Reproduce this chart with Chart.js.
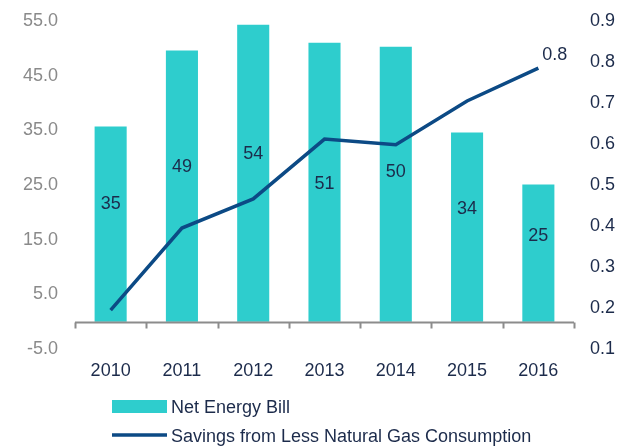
<!DOCTYPE html>
<html>
<head>
<meta charset="utf-8">
<script src="https://cdn.jsdelivr.net/npm/chart.js@4"></script>
<style>
  html, body { margin: 0; padding: 0; background: #ffffff; }
  #wrap { width: 620px; height: 447px; position: relative; }
</style>
</head>
<body>
<div id="wrap"><canvas id="c" width="620" height="447"></canvas></div>
<script>
const categories = ['2010', '2011', '2012', '2013', '2014', '2015', '2016'];
const netEnergyBill = [35.7, 49.6, 54.3, 51.0, 50.3, 34.6, 25.1];
const netEnergyBillLabels = ['35', '49', '54', '51', '50', '34', '25'];
const gasSavings = [0.195, 0.395, 0.466, 0.612, 0.598, 0.705, 0.785];
const gasSavingsLastLabel = '0.8';
const leftTicks = [-5, 5, 15, 25, 35, 45, 55];
const rightTicks = [0.1, 0.2, 0.3, 0.4, 0.5, 0.6, 0.7, 0.8, 0.9];

const TEAL = '#2ECDCD';
const NAVY = '#0C4A85';
const TEXT = '#1C2B4B';
const GRAY = '#8A8A8A';
const FONT = '"Liberation Sans", Arial, sans-serif';

const decorations = {
  id: 'decorations',
  afterDatasetsDraw(chart, args, opts) {
    const ctx = chart.ctx;
    const x = chart.scales.x, y = chart.scales.y, y1 = chart.scales.y1;
    const ca = chart.chartArea;
    // zero axis line with category tick marks
    const y0 = Math.round(y.getPixelForValue(0)) + 0.5;
    ctx.save();
    ctx.strokeStyle = '#8C8C8C';
    ctx.lineWidth = 2;
    ctx.beginPath();
    ctx.moveTo(ca.left, y0);
    ctx.lineTo(ca.right, y0);
    const n = categories.length;
    const cw = (ca.right - ca.left) / n;
    for (let i = 0; i <= n; i++) {
      const tx = Math.round(ca.left + i * cw) + 0.5;
      ctx.moveTo(tx, y0);
      ctx.lineTo(tx, y0 + 6);
    }
    ctx.stroke();

    // bar value labels
    ctx.fillStyle = TEXT;
    ctx.font = '18px ' + FONT;
    ctx.textAlign = 'center';
    ctx.textBaseline = 'middle';
    netEnergyBill.forEach((v, i) => {
      const px = x.getPixelForValue(i);
      const py = y.getPixelForValue(v * opts.labelFrac[i]);
      ctx.fillText(netEnergyBillLabels[i], px, py);
    });

    // last point label of line
    const li = gasSavings.length - 1;
    const lx = x.getPixelForValue(li);
    const ly = y1.getPixelForValue(gasSavings[li]);
    ctx.textAlign = 'left';
    ctx.fillText(gasSavingsLastLabel, lx + 4, ly - 13);

    // legend
    const lg = opts.legend;
    ctx.fillStyle = TEAL;
    ctx.fillRect(lg.x, lg.y1 - 7, 55, 13);
    ctx.strokeStyle = NAVY;
    ctx.lineWidth = 3.5;
    ctx.beginPath();
    ctx.moveTo(lg.x, lg.y2);
    ctx.lineTo(lg.x + 55, lg.y2);
    ctx.stroke();
    ctx.fillStyle = TEXT;
    ctx.textAlign = 'left';
    ctx.textBaseline = 'middle';
    ctx.fillText(chart.data.datasets[1].label, lg.x + 59, lg.y1 + 1);
    ctx.fillText(chart.data.datasets[0].label, lg.x + 59, lg.y2 + 2);
    ctx.restore();
  }
};

function fitVertical(width) {
  return function (s) {
    s.width = width;
    s.paddingTop = 0;
    s.paddingBottom = 0;
  };
}

new Chart(document.getElementById('c'), {
  data: {
    labels: categories,
    datasets: [
      {
        type: 'line',
        label: 'Savings from Less Natural Gas Consumption',
        data: gasSavings,
        yAxisID: 'y1',
        borderColor: NAVY,
        borderWidth: 3.5,
        pointRadius: 0,
        tension: 0,
        fill: false,
        order: 0
      },
      {
        type: 'bar',
        label: 'Net Energy Bill',
        data: netEnergyBill,
        yAxisID: 'y',
        backgroundColor: TEAL,
        borderWidth: 0,
        barPercentage: 0.45,
        categoryPercentage: 1.0,
        order: 1
      }
    ]
  },
  options: {
    responsive: false,
    animation: false,
    devicePixelRatio: 1,
    layout: { padding: { top: 21, bottom: 58, left: 0, right: 0 } },
    plugins: {
      legend: { display: false },
      tooltip: { enabled: false },
      decorations: {
        labelFrac: [0.605, 0.57, 0.565, 0.495, 0.545, 0.595, 0.625],
        legend: { x: 112, y1: 407, y2: 435 }
      }
    },
    scales: {
      x: {
        grid: { display: false, drawTicks: false },
        border: { display: false },
        ticks: { color: TEXT, font: { family: FONT, size: 18 }, padding: 11, maxRotation: 0 },
        afterFit(s) { s.height = 40; s.paddingLeft = 0; s.paddingRight = 0; }
      },
      y: {
        position: 'left',
        min: -5, max: 55,
        afterBuildTicks(s) { s.ticks = leftTicks.map(v => ({ value: v })); },
        grid: { display: false, drawTicks: false },
        border: { display: false },
        ticks: {
          color: GRAY, font: { family: FONT, size: 18 }, padding: 17,
          callback: v => v.toFixed(1)
        },
        afterFit: fitVertical(75)
      },
      y1: {
        position: 'right',
        min: 0.1, max: 0.9,
        afterBuildTicks(s) { s.ticks = rightTicks.map(v => ({ value: v })); },
        grid: { display: false, drawTicks: false },
        border: { display: false },
        ticks: {
          color: TEXT, font: { family: FONT, size: 18 }, padding: 16,
          callback: v => v.toFixed(1)
        },
        afterFit: fitVertical(46)
      }
    }
  },
  plugins: [decorations]
});
</script>
</body>
</html>
